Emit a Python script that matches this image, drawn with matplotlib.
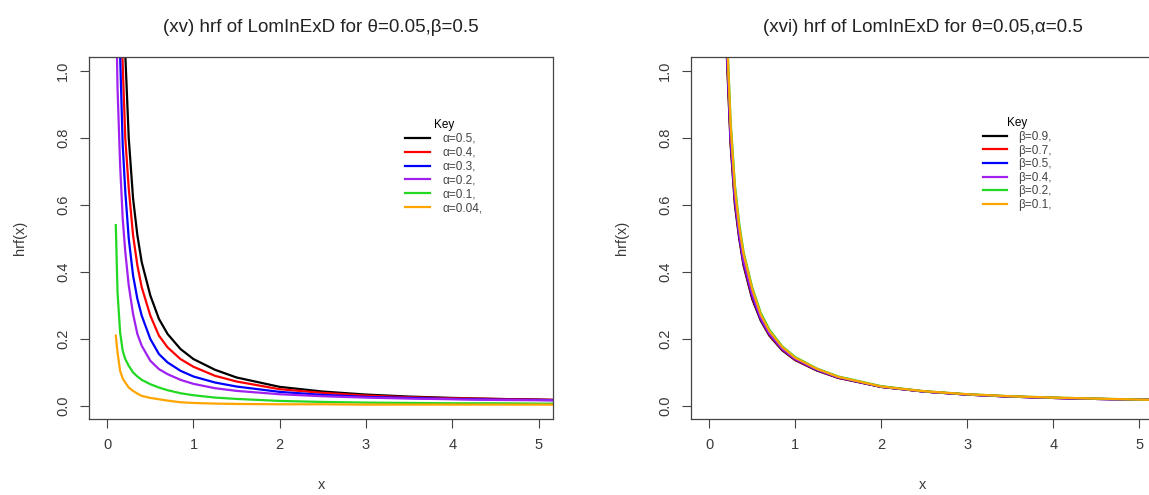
import matplotlib
matplotlib.use("Agg")
import matplotlib.pyplot as plt

plt.rcParams['font.family'] = ['Liberation Sans', 'DejaVu Sans']

# x points (shared by every curve)
x_grid = [0.10, 0.12, 0.15, 0.18, 0.21, 0.25, 0.30, 0.35, 0.40, 0.50, 0.60, 0.70,
          0.85, 1.00, 1.25, 1.50, 2.00, 2.50, 3.00, 3.50, 4.00, 4.50, 5.00, 5.20]

# (xv) theta=0.05, beta=0.5, varying alpha
alpha_labels = ["α=0.5,", "α=0.4,", "α=0.3,", "α=0.2,", "α=0.1,", "α=0.04,"]
hrf_a05 = [2.50, 2.00, 1.60, 1.30, 1.05, 0.80, 0.62, 0.51, 0.43, 0.33, 0.26, 0.215,
           0.170, 0.140, 0.108, 0.085, 0.057, 0.043, 0.034, 0.028, 0.024, 0.021, 0.019, 0.018]
hrf_a04 = [2.00, 1.60, 1.30, 1.02, 0.80, 0.65, 0.51, 0.42, 0.355, 0.27, 0.21, 0.175,
           0.140, 0.117, 0.090, 0.073, 0.050, 0.039, 0.031, 0.026, 0.023, 0.021, 0.019, 0.018]
hrf_a03 = [1.60, 1.30, 1.05, 0.78, 0.64, 0.50, 0.39, 0.32, 0.27, 0.20, 0.155, 0.130,
           0.105, 0.088, 0.070, 0.058, 0.042, 0.033, 0.027, 0.024, 0.021, 0.019, 0.018, 0.017]
hrf_a02 = [1.25, 0.95, 0.72, 0.56, 0.46, 0.36, 0.275, 0.215, 0.18, 0.135, 0.110, 0.095,
           0.078, 0.066, 0.053, 0.045, 0.035, 0.029, 0.025, 0.022, 0.020, 0.018, 0.017, 0.017]
hrf_a01 = [0.54, 0.34, 0.22, 0.165, 0.14, 0.12, 0.100, 0.088, 0.078, 0.065, 0.055, 0.047,
           0.038, 0.032, 0.025, 0.021, 0.015, 0.012, 0.010, 0.009, 0.008, 0.008, 0.007, 0.007]
hrf_a004 = [0.21, 0.16, 0.105, 0.082, 0.070, 0.055, 0.045, 0.037, 0.030, 0.024, 0.020, 0.016,
            0.011, 0.009, 0.007, 0.006, 0.005, 0.005, 0.004, 0.004, 0.004, 0.004, 0.004, 0.004]

# (xvi) theta=0.05, alpha=0.5, varying beta
beta_labels = ["β=0.9,", "β=0.7,", "β=0.5,", "β=0.4,", "β=0.2,", "β=0.1,"]
hrf_b09 = [2.40, 1.92, 1.55, 1.26, 1.02, 0.78, 0.60, 0.50, 0.42, 0.32, 0.255, 0.210,
           0.166, 0.137, 0.106, 0.084, 0.057, 0.043, 0.034, 0.028, 0.024, 0.021, 0.019, 0.018]
hrf_b07 = [2.45, 1.96, 1.57, 1.28, 1.03, 0.79, 0.61, 0.505, 0.425, 0.325, 0.258, 0.212,
           0.168, 0.138, 0.107, 0.084, 0.057, 0.043, 0.034, 0.028, 0.024, 0.021, 0.019, 0.018]
hrf_b05 = [2.50, 2.00, 1.60, 1.30, 1.05, 0.80, 0.62, 0.51, 0.43, 0.33, 0.26, 0.215,
           0.170, 0.140, 0.108, 0.085, 0.057, 0.043, 0.034, 0.028, 0.024, 0.021, 0.019, 0.018]
hrf_b04 = [2.52, 2.02, 1.62, 1.31, 1.06, 0.81, 0.625, 0.515, 0.435, 0.335, 0.263, 0.217,
           0.171, 0.141, 0.109, 0.086, 0.058, 0.043, 0.034, 0.028, 0.024, 0.021, 0.019, 0.018]
hrf_b02 = [2.60, 2.10, 1.68, 1.36, 1.10, 0.85, 0.66, 0.545, 0.46, 0.355, 0.278, 0.228,
           0.178, 0.146, 0.112, 0.088, 0.059, 0.044, 0.035, 0.029, 0.025, 0.022, 0.019, 0.018]
hrf_b01 = [2.58, 2.08, 1.66, 1.34, 1.09, 0.84, 0.65, 0.535, 0.455, 0.350, 0.273, 0.224,
           0.176, 0.144, 0.111, 0.087, 0.058, 0.044, 0.035, 0.029, 0.025, 0.022, 0.019, 0.018]

line_colors = ["black", "red", "blue", "#A020F0", "#22D822", "orange"]
x_ticks = [0, 1, 2, 3, 4, 5]
y_ticks = [0.0, 0.2, 0.4, 0.6, 0.8, 1.0]

fig = plt.figure(figsize=(11.49, 4.95), dpi=100)
ax1 = fig.add_axes([0.0775, 0.1535, 0.4040, 0.7313])
ax2 = fig.add_axes([0.6014, 0.1535, 0.4030, 0.7313])


def style_axes(ax, title):
    ax.set_xlim(-0.21, 5.17)
    ax.set_ylim(-0.039, 1.042)
    ax.set_xticks(x_ticks)
    ax.set_xticklabels([str(t) for t in x_ticks])
    ax.set_yticks(y_ticks)
    ax.set_yticklabels(["%.1f" % t for t in y_ticks], rotation=90, va="center")
    ax.tick_params(direction="out", length=6.5, width=0.8, colors="#444444",
                   labelcolor="#3a3a3a", labelsize=10.5, pad=7)
    for sp in ax.spines.values():
        sp.set_color("#444444")
        sp.set_linewidth(0.9)
    ax.set_xlabel("x", fontsize=10.5, color="#3a3a3a", va="center")
    ax.set_ylabel("hrf(x)", fontsize=10.5, color="#3a3a3a", va="center")
    ax.xaxis.set_label_coords(0.5, -0.182)
    ax.yaxis.set_label_coords(-0.149, 0.5)
    ax.set_title(title, fontsize=13.5, color="#222222", pad=18)


curves_a = [hrf_a05, hrf_a04, hrf_a03, hrf_a02, hrf_a01, hrf_a004]
for y, c, lab in zip(curves_a, line_colors, alpha_labels):
    ax1.plot(x_grid, y, color=c, lw=1.6, label=lab)
style_axes(ax1, "(xv) hrf of LomInExD for θ=0.05,β=0.5")
ax1.legend(title="Key", loc="upper left", bbox_to_anchor=(0.668, 0.845), frameon=False,
           fontsize=8.5, title_fontsize=8.5, labelspacing=0.16, handlelength=2.1,
           handletextpad=1.1, borderpad=0, labelcolor="#444444")

curves_b = [hrf_b09, hrf_b07, hrf_b05, hrf_b04, hrf_b02, hrf_b01]
for y, c, lab in zip(curves_b, line_colors, beta_labels):
    ax2.plot(x_grid, y, color=c, lw=1.6, label=lab)
style_axes(ax2, "(xvi) hrf of LomInExD for θ=0.05,α=0.5")
ax2.legend(title="Key", loc="upper left", bbox_to_anchor=(0.617, 0.85), frameon=False,
           fontsize=8.5, title_fontsize=8.5, labelspacing=0.14, handlelength=2.1,
           handletextpad=0.9, borderpad=0, labelcolor="#444444")

fig.savefig("out.png", dpi=100)
